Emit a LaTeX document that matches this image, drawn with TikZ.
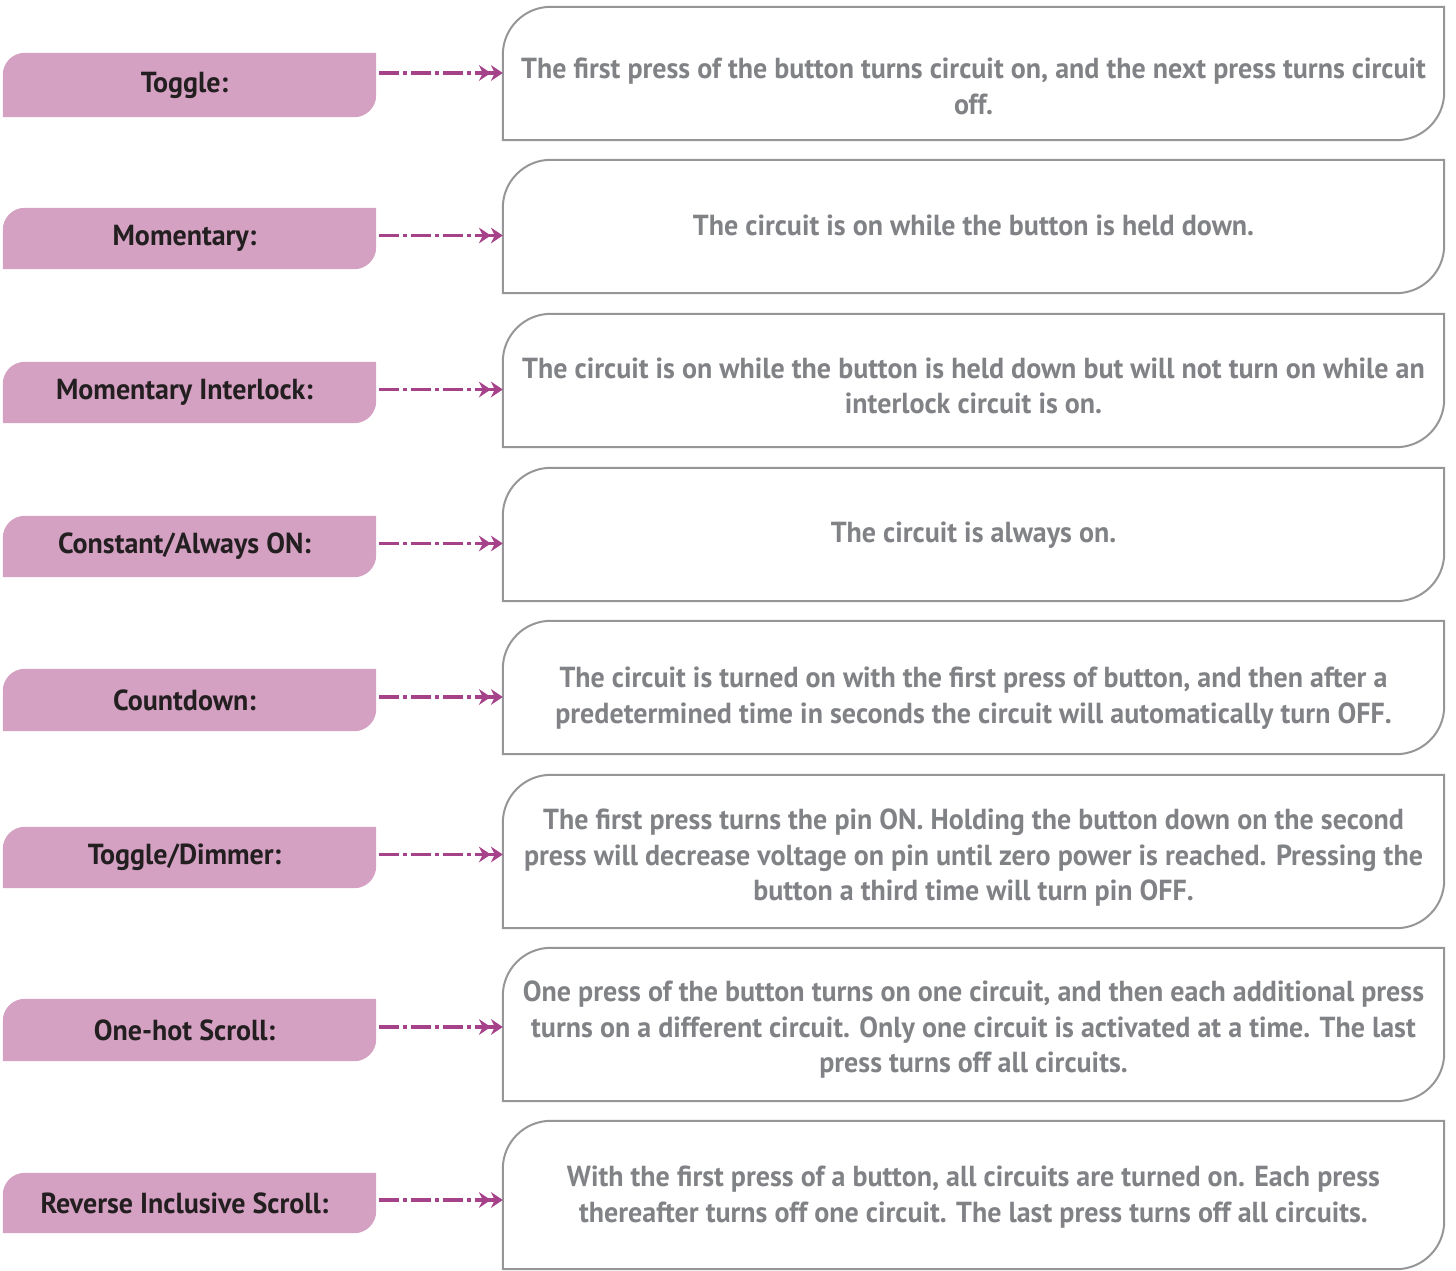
\documentclass[tikz,border=0pt]{standalone}
\usepackage{fontspec}
\setmainfont{PT Sans}[FakeStretch=0.965]
\usetikzlibrary{positioning,arrows.meta,backgrounds,calc}
\definecolor{lblpink}{RGB}{212,161,194}
\definecolor{flowpink}{RGB}{165,66,137}
\definecolor{boxgray}{RGB}{150,150,153}
\definecolor{txtgray}{RGB}{128,130,133}
\definecolor{lbltxt}{RGB}{35,31,32}
\tikzset{
  flw/.style={draw=flowpink,line width=3.5pt,dash pattern=on 20pt off 4pt on 4pt off 4pt,
    -{Stealth[length=12pt,width=16pt,inset=4pt,line width=0pt]Stealth[length=12pt,width=16pt,inset=4pt,line width=0pt]}}
}

\begin{document}
\begin{tikzpicture}[x=1pt,y=-1pt]
\tikzstyle{lbl} = [minimum width=373pt,inner sep=0pt,text=lbltxt,font=\fontsize{29pt}{35.5pt}\selectfont\bfseries,execute at begin node=\hspace*{-10pt}]
\tikzstyle{dsc} = [minimum width=941pt,inner sep=0pt]
\tikzstyle{dtx} = [align=center,inner sep=0pt,text=txtgray,font=\fontsize{29pt}{35.5pt}\selectfont\bfseries]
\useasboundingbox (0,0) rectangle (1456,1270);
% labels on the left
\node[lbl,minimum height=64pt] (l1) at (189.5,85)    {Toggle:};
\node[lbl,minimum height=61pt] (l2) at (189.5,238.5) {Momentary:};
\node[lbl,minimum height=61pt] (l3) at (189.5,392.5) {Momentary Interlock:};
\node[lbl,minimum height=61pt] (l4) at (189.5,546.5) {Constant/Always ON:};
\node[lbl,minimum height=62pt] (l5) at (189.5,700)   {Countdown:};
\node[lbl,minimum height=61pt] (l6) at (189.5,857.5) {Toggle/Dimmer:};
\node[lbl,minimum height=62pt] (l7) at (189.5,1030)  {One-hot Scroll:};
\node[lbl,minimum height=60pt] (l8) at (189.5,1203)  {Reverse Inclusive Scroll:};
% boxes on the right
\node[dsc,minimum height=133pt] (b1) at (973.5,73.5)  {};
\node[dsc,minimum height=133pt] (b2) at (973.5,226.5) {};
\node[dsc,minimum height=133pt] (b3) at (973.5,380.5) {};
\node[dsc,minimum height=133pt] (b4) at (973.5,534.5) {};
\node[dsc,minimum height=133pt] (b5) at (973.5,687.5) {};
\node[dsc,minimum height=153pt] (b6) at (973.5,851.5) {};
\node[dsc,minimum height=153pt] (b7) at (973.5,1024.5) {};
\node[dsc,minimum height=148pt] (b8) at (973.5,1195) {};
\node[dtx] (t1) at (973.5,86.5) {The first press of the button turns circuit on, and the next press turns circuit\\off.};
\node[dtx] (t2) at (973.5,225) {The circuit is on while the button is held down.};
\node[dtx] (t3) at (973.5,386) {The circuit is on while the button is held down but will not turn on while an\\interlock circuit is on.};
\node[dtx] (t4) at (973.5,535) {The circuit is always on.};
\node[dtx] (t5) at (973.5,698) {The circuit is turned on with the first press of button, and then after a\\predetermined time in seconds the circuit will automatically turn OFF.};
\node[dtx] (t6) at (973.5,858) {The first press turns the pin ON. Holding the button down on the second\\press will decrease voltage on pin until zero power is reached. Pressing the\\button a third time will turn pin OFF.};
\node[dtx] (t7) at (973.5,1030) {One press of the button turns on one circuit, and then each additional press\\turns on a different circuit. Only one circuit is activated at a time. The last\\press turns off all circuits.};
\node[dtx] (t8) at (973.5,1197) {With the first press of a button, all circuits are turned on. Each press\\thereafter turns off one circuit. The last press turns off all circuits.};
\foreach \n in {1,...,8}
  \draw[boxgray,line width=2pt] (b\n.south west) -- ([yshift=-48pt]b\n.north west) arc[start angle=180,end angle=90,radius=48pt] -- (b\n.north east) -- ([yshift=48pt]b\n.south east) arc[start angle=0,end angle=-90,radius=48pt] -- cycle;
\foreach \n/\dy in {1/12,2/3,3/3,4/3,5/3,6/3,7/3,8/3}
  \draw[flw] ([xshift=3pt,yshift=\dy pt]l\n.east) -- ([yshift=\dy pt]l\n.east -| b\n.west);
\begin{pgfonlayer}{background}
\foreach \n in {1,...,8}
  \fill[lblpink] (l\n.south west) -- ([yshift=-22pt]l\n.north west) arc[start angle=180,end angle=90,radius=22pt] -- (l\n.north east) -- ([yshift=22pt]l\n.south east) arc[start angle=0,end angle=-90,radius=22pt] -- cycle;
\end{pgfonlayer}
\end{tikzpicture}
\end{document}
